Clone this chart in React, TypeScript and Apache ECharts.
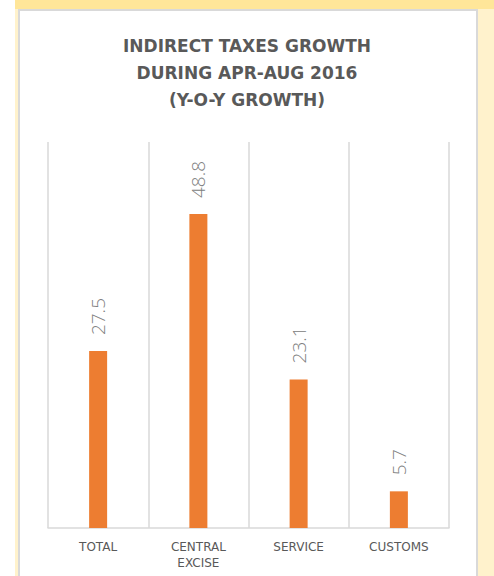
import React, { useEffect, useRef } from "react";
import * as echarts from "echarts";

const categories: string[] = ["TOTAL", "CENTRAL EXCISE", "SERVICE", "CUSTOMS"];
const growthValues: number[] = [27.5, 48.8, 23.1, 5.7];
const titleLines: string[] = ["INDIRECT TAXES GROWTH", "DURING APR-AUG 2016", "(Y-O-Y GROWTH)"];

export default function App() {
  const ref = useRef<HTMLDivElement>(null);
  useEffect(() => {
    document.body.style.margin = "0";
    if (!ref.current) return;
    const chart = echarts.init(ref.current, null, { renderer: "svg" });
    chart.setOption({
      animation: false,
      backgroundColor: "#ffffff",
      graphic: [
        { type: "rect", z: -10, silent: true, shape: { x: 15, y: 0, width: 479, height: 576 }, style: { fill: "#FFF2CC" } },
        { type: "rect", z: -9, silent: true, shape: { x: 15, y: 0, width: 479, height: 9 }, style: { fill: "#FFE699" } },
        { type: "rect", z: -8, silent: true, shape: { x: 19, y: 10, width: 458, height: 570 }, style: { fill: "#ffffff", stroke: "#D9D9D9", lineWidth: 2 } },
      ],
      title: {
        text: titleLines.join("\n"),
        left: "center",
        top: 27,
        textStyle: {
          fontFamily: "DejaVu Sans",
          fontWeight: "bold",
          fontSize: 17,
          lineHeight: 27,
          color: "#595959",
        },
      },
      grid: { left: 48, right: 45, top: 142, bottom: 48, containLabel: false },
      xAxis: {
        type: "category",
        data: categories,
        axisLine: { show: true, lineStyle: { color: "#D9D9D9", width: 1.5 } },
        axisTick: { show: false },
        splitLine: { show: true, lineStyle: { color: "#D9D9D9", width: 1.5 } },
        axisLabel: {
          interval: 0,
          margin: 11,
          color: "#595959",
          fontFamily: "DejaVu Sans",
          fontSize: 12,
          lineHeight: 16,
          formatter: (v: string) => v.replace(" ", "\n"),
        },
      },
      yAxis: {
        type: "value",
        min: 0,
        max: 60,
        show: false,
        splitLine: { show: false },
      },
      series: [
        {
          type: "bar",
          data: growthValues,
          barWidth: 18,
          itemStyle: { color: "#ED7D31" },
          label: {
            show: true,
            position: "top",
            rotate: 90,
            align: "left",
            verticalAlign: "middle",
            distance: 16,
            color: "#808080",
            fontFamily: "Open Sans",
            fontWeight: 300,
            fontSize: 19,
          },
        },
      ],
    });
    return () => chart.dispose();
  }, []);
  return <div ref={ref} style={{ width: 494, height: 576 }} />;
}
